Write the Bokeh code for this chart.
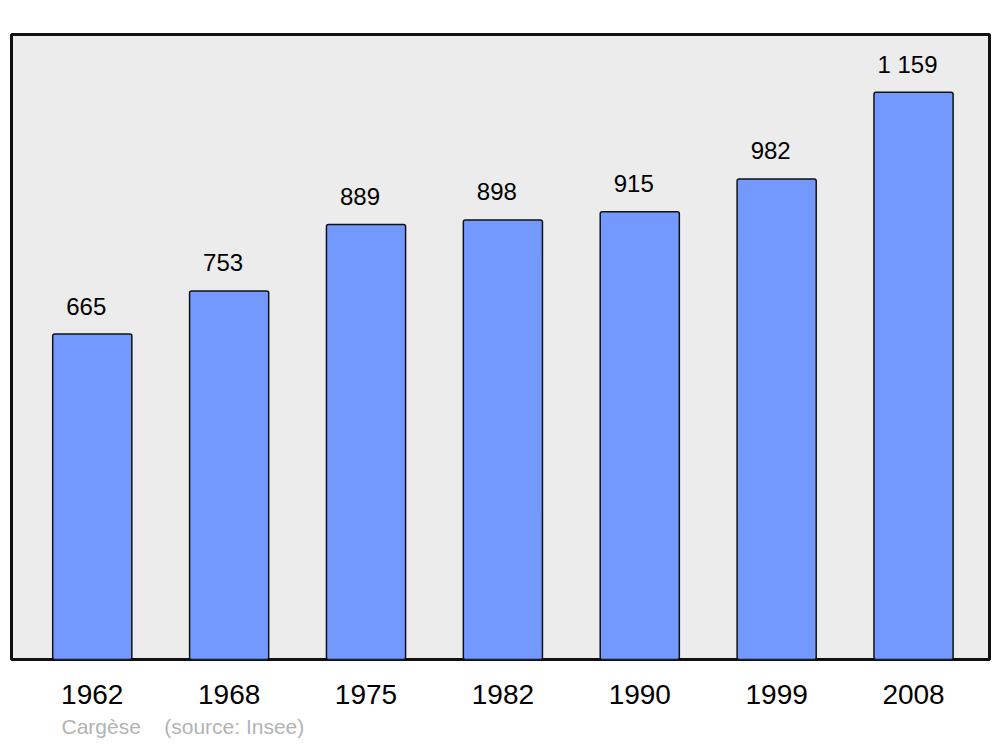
from bokeh.plotting import figure
from bokeh.models import Range1d, FixedTicker, Title, ColumnDataSource
from bokeh.embed import file_html
from bokeh.resources import INLINE
from bokeh.core.properties import value

years = ["1962", "1968", "1975", "1982", "1990", "1999", "2008"]
population = [665, 753, 889, 898, 915, 982, 1159]
value_labels = ["665", "753", "889", "898", "915", "982", "1 159"]
source_text = "Cargèse" + "\u00a0" * 3 + " (source: Insee)"
idx = list(range(len(years)))

src = ColumnDataSource(dict(x=idx, top=population, lab=value_labels))

p = figure(width=1000, height=747, output_backend="svg", toolbar_location=None,
           x_range=Range1d(-0.59, 6.555), y_range=Range1d(0, 1277),
           y_axis_location=None, min_border_left=11, min_border_right=11,
           min_border_top=34, min_border_bottom=88)
p.background_fill_color = "#ececec"
p.border_fill_color = "white"
p.outline_line_color = "#111111"
p.outline_line_width = 3
p.xgrid.visible = False
p.ygrid.visible = False

p.vbar(x="x", top="top", bottom=0, width=0.578, source=src,
       fill_color="#7399ff", line_color="#111111", line_width=1.5, border_radius=2)

p.text(x="x", y="top", text="lab", source=src, x_offset=-6, y_offset=-28,
       text_align="center", text_baseline="alphabetic",
       text_font=value("Liberation Sans"), text_font_size="24px", text_color="black")

ax = p.xaxis[0]
ax.ticker = FixedTicker(ticks=idx)
ax.major_label_overrides = {i: y for i, y in zip(idx, years)}
ax.axis_line_color = None
ax.major_tick_line_color = None
ax.minor_tick_line_color = None
ax.major_tick_out = 0
ax.major_tick_in = 0
ax.major_label_standoff = 25
ax.major_label_text_font = "Liberation Sans"
ax.major_label_text_font_size = "28px"
ax.major_label_text_color = "black"

p.add_layout(Title(text=source_text, align="left", offset=50, standoff=12,
                   text_font="Liberation Sans", text_font_size="21px",
                   text_font_style="normal", text_color="#b3b3b3"), "below")

open("out.html", "w").write(file_html(p, INLINE))
